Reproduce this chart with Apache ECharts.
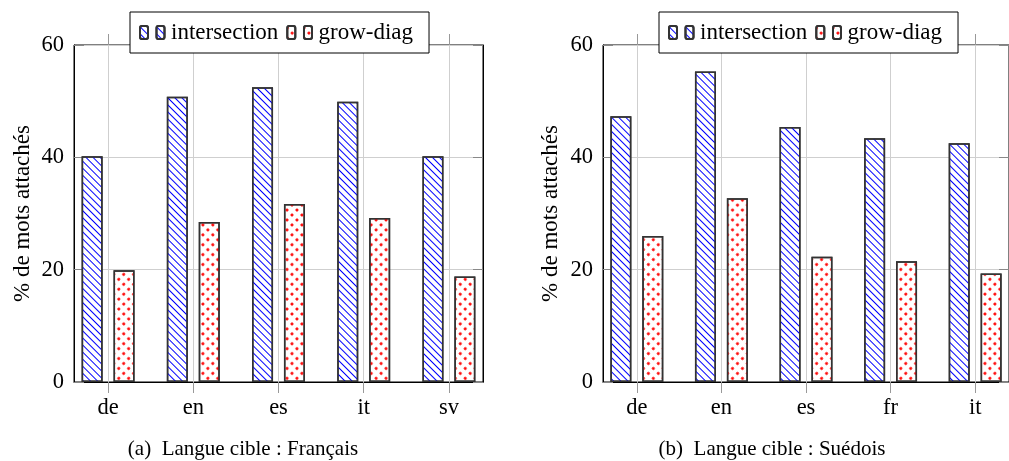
<!DOCTYPE html>
<html>
<head>
<meta charset="utf-8">
<script src="https://cdn.jsdelivr.net/npm/echarts@6/dist/echarts.min.js"></script>
<style>
  html, body { margin: 0; background: #fff; }
  #chart { width: 1009px; height: 461px; }
</style>
</head>
<body>
<div id="chart"></div>
<script>
// données
const catsFr = ["de", "en", "es", "it", "sv"];
const interFr = [40.2, 50.8, 52.5, 49.9, 40.2];
const growFr = [19.9, 28.5, 31.7, 29.2, 18.8];
const catsSv = ["de", "en", "es", "fr", "it"];
const interSv = [47.3, 55.3, 45.4, 43.4, 42.5];
const growSv = [26.0, 32.7, 22.3, 21.5, 19.3];
const seriesNames = ["intersection", "grow-diag"];
const captions = ["(a)\u2002Langue cible : Français", "(b)\u2002Langue cible : Suédois"];
const yTitle = "% de mots attachés";

(() => {
  const font = "Liberation Serif";
  const myChart = echarts.init(document.querySelector("#chart"));

  const linesStyle = {
    color: "#fff",
    borderColor: "#333",
    borderWidth: 1.5,
    decal: {
      symbol: "rect",
      symbolSize: 1,
      color: "#0000ff",
      dashArrayX: [1, 0],
      dashArrayY: [1, 3.7],
      rotation: Math.PI / 4,
    },
  };
  const dotsStyle = {
    color: "#fff",
    borderColor: "#333",
    borderWidth: 1.5,
    decal: {
      symbol: "circle",
      symbolSize: 1,
      color: "#ff0000",
      dashArrayX: [2.3, 3.6],
      dashArrayY: [2.3, 3.6],
      rotation: Math.PI / 4,
    },
  };

  const xAxis = (grid, cats, pos) => ({
    type: "value",
    gridIndex: grid,
    position: pos,
    min: -0.4,
    max: cats.length - 0.6,
    axisLine: { show: pos === "bottom", onZero: false, lineStyle: { color: "#000", width: 1 } },
    axisTick: {
      show: true,
      inside: false,
      length: 11,
      customValues: cats.map((c, i) => i),
      lineStyle: { color: "#999" },
    },
    axisLabel: {
      show: pos === "bottom",
      customValues: cats.map((c, i) => i),
      formatter: (v) => cats[Math.round(v)],
      margin: 15,
      fontSize: 22.5,
      fontFamily: font,
      color: "#000",
    },
    splitLine: { show: pos === "bottom", lineStyle: { color: "#cfcfcf" } },
  });

  const yAxis = (grid, pos, gap) => ({
    type: "value",
    gridIndex: grid,
    position: pos,
    min: 0,
    max: 60,
    interval: 20,
    name: pos === "left" ? yTitle : "",
    nameLocation: "middle",
    nameGap: gap,
    nameRotate: 90,
    nameTextStyle: { fontSize: 23, fontFamily: font, color: "#000" },
    axisLine: { show: true, onZero: false, lineStyle: { color: "#000", width: 1 } },
    axisTick: { show: true, inside: true, length: 10, lineStyle: { color: "#888" } },
    axisLabel: {
      show: pos === "left",
      margin: 10,
      fontSize: 22.5,
      fontFamily: font,
      color: "#000",
    },
    splitLine: { show: pos === "left", lineStyle: { color: "#cfcfcf" } },
  });

  const bars = (name, vals, xi, yi, style) => ({
    type: "bar",
    name: name,
    xAxisIndex: xi,
    yAxisIndex: yi,
    data: vals.map((v, i) => [i, v]),
    barWidth: 21,
    barGap: "52%",
    itemStyle: style,
    emphasis: { disabled: true },
  });

  // boîte de légende + icônes supplémentaires (deux icônes par entrée)
  const legendBox = (x) => ({
    left: x,
    top: 12,
    orient: "horizontal",
    data: seriesNames,
    padding: [9, 16, 9, 25.5],
    itemWidth: 8,
    itemHeight: 13,
    itemGap: 24.7,
    backgroundColor: "#fff",
    borderColor: "#000",
    borderWidth: 1,
    borderRadius: 0,
    textStyle: { fontSize: 23, fontFamily: font, color: "#000", padding: [0, 0, 0, 1.5] },
  });
  const legendIcon = (x, name) => ({
    left: x,
    top: 12,
    data: [name],
    padding: [9, 0, 9, 0],
    itemWidth: 8,
    itemHeight: 13,
    formatter: () => "\u00a0",
    textStyle: { fontSize: 23, fontFamily: font, color: "#000" },
  });

  const option = {
    animation: false,
    textStyle: { fontFamily: font },
    grid: [
      { left: 74, top: 45, width: 409, height: 337, show: true, borderColor: "#000", borderWidth: 1, backgroundColor: "transparent" },
      { left: 603, top: 45, width: 409, height: 337, show: true, borderColor: "#000", borderWidth: 1, backgroundColor: "transparent" },
    ],
    xAxis: [
      xAxis(0, catsFr, "bottom"),
      xAxis(0, catsFr, "top"),
      xAxis(1, catsSv, "bottom"),
      xAxis(1, catsSv, "top"),
    ],
    yAxis: [
      yAxis(0, "left", 40),
      yAxis(0, "right", 0),
      yAxis(1, "left", 41),
      yAxis(1, "right", 0),
    ],
    legend: [
      legendBox(130),
      legendIcon(139, seriesNames[0]),
      legendIcon(286.3, seriesNames[1]),
      legendBox(659),
      legendIcon(668, seriesNames[0]),
      legendIcon(815.3, seriesNames[1]),
    ],
    graphic: [
      {
        type: "text",
        x: 243,
        y: 449,
        style: { text: captions[0], fontSize: 21, fontFamily: font, fill: "#000", textAlign: "center", textVerticalAlign: "middle" },
      },
      {
        type: "text",
        x: 772,
        y: 449,
        style: { text: captions[1], fontSize: 21, fontFamily: font, fill: "#000", textAlign: "center", textVerticalAlign: "middle" },
      },
    ],
    series: [
      bars(seriesNames[0], interFr, 0, 0, linesStyle),
      bars(seriesNames[1], growFr, 0, 0, dotsStyle),
      bars(seriesNames[0], interSv, 2, 2, linesStyle),
      bars(seriesNames[1], growSv, 2, 2, dotsStyle),
    ],
  };
  myChart.setOption(option);
  window.addEventListener("resize", () => {
    myChart.resize();
  });
})();
</script>
</body>
</html>
